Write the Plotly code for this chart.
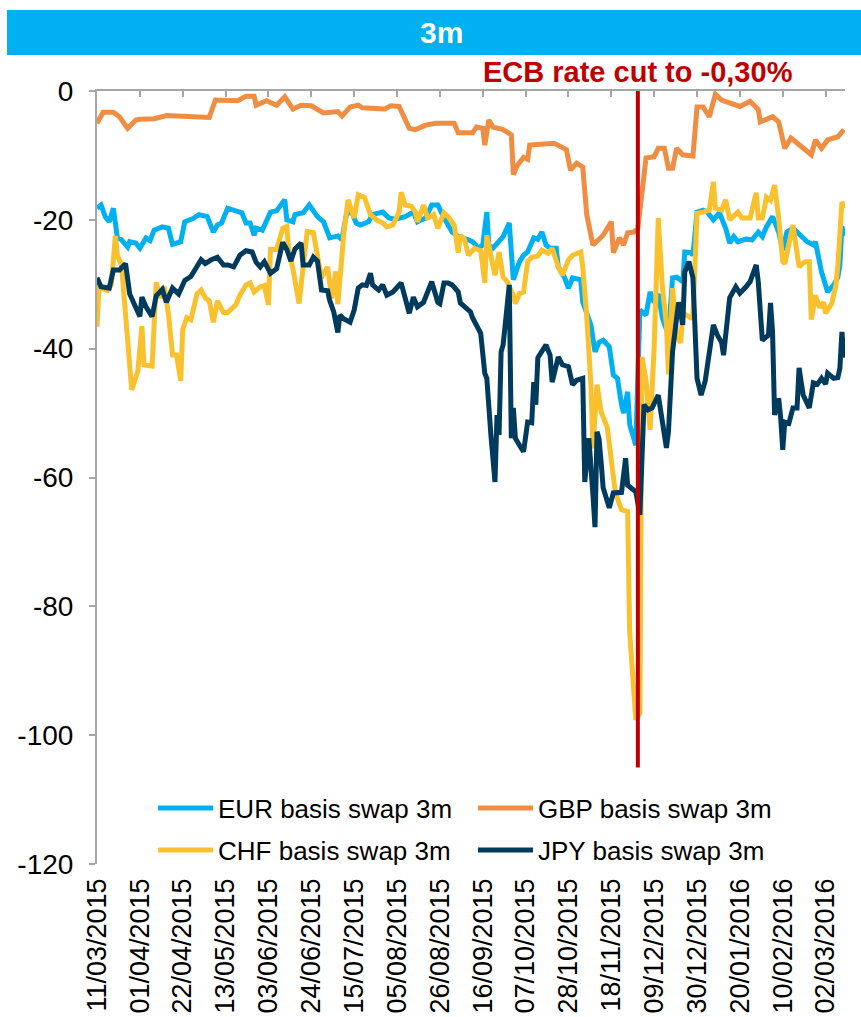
import plotly.graph_objects as go

# --- data (bp) ---
tick_dates = ["2015-03-11", "2015-04-01", "2015-04-22", "2015-05-13", "2015-06-03", "2015-06-24",
              "2015-07-15", "2015-08-05", "2015-08-26", "2015-09-16", "2015-10-07", "2015-10-28",
              "2015-11-18", "2015-12-09", "2015-12-30", "2016-01-20", "2016-02-10", "2016-03-02"]
tick_labels = ["11/03/2015", "01/04/2015", "22/04/2015", "13/05/2015", "03/06/2015", "24/06/2015",
               "15/07/2015", "05/08/2015", "26/08/2015", "16/09/2015", "07/10/2015", "28/10/2015",
               "18/11/2015", "09/12/2015", "30/12/2015", "20/01/2016", "10/02/2016", "02/03/2016"]
y_ticks = [0, -20, -40, -60, -80, -100, -120]
y_labels = ["0", "-20", "-40", "-60", "-80", "-100", "-120"]

ecb_cut_date = "2015-12-01"

eur = [("2015-03-11", -18.2), ("2015-03-13", -17.7), ("2015-03-15", -19.5), ("2015-03-17", -20.3),
       ("2015-03-19", -18.2), ("2015-03-21", -22.8), ("2015-03-23", -23.1), ("2015-03-26", -24.2),
       ("2015-03-27", -23.4), ("2015-03-30", -23.6), ("2015-04-01", -24.4), ("2015-04-04", -22.8),
       ("2015-04-06", -23.2), ("2015-04-08", -21.6), ("2015-04-12", -21.1), ("2015-04-15", -21.3),
       ("2015-04-17", -23.8), ("2015-04-21", -23.4), ("2015-04-23", -20.3), ("2015-04-27", -19.8),
       ("2015-04-30", -19.2), ("2015-05-04", -19.5), ("2015-05-07", -21.9), ("2015-05-09", -20.8),
       ("2015-05-11", -20.5), ("2015-05-14", -18.2), ("2015-05-18", -18.6), ("2015-05-21", -18.9),
       ("2015-05-23", -20.5), ("2015-05-25", -20.5), ("2015-05-27", -22.4), ("2015-05-28", -21.3),
       ("2015-05-31", -21.6), ("2015-06-04", -18.8), ("2015-06-07", -18.6), ("2015-06-11", -16.9),
       ("2015-06-12", -20.0), ("2015-06-15", -20.3), ("2015-06-16", -19.2), ("2015-06-20", -18.9),
       ("2015-06-23", -17.7), ("2015-06-27", -19.5), ("2015-06-30", -20.3), ("2015-07-03", -22.8),
       ("2015-07-07", -22.5), ("2015-07-09", -23.1), ("2015-07-11", -19.5), ("2015-07-13", -18.2),
       ("2015-07-16", -20.5), ("2015-07-18", -20.8), ("2015-07-22", -20.3), ("2015-07-24", -19.2),
       ("2015-07-29", -18.8), ("2015-08-01", -19.7), ("2015-08-04", -19.9), ("2015-08-09", -19.5),
       ("2015-08-13", -18.8), ("2015-08-15", -20.3), ("2015-08-19", -19.7), ("2015-08-22", -17.7),
       ("2015-08-25", -17.7), ("2015-08-28", -19.7), ("2015-09-01", -21.9), ("2015-09-04", -22.6),
       ("2015-09-09", -23.1), ("2015-09-11", -23.4), ("2015-09-14", -24.4), ("2015-09-16", -23.9),
       ("2015-09-18", -18.8), ("2015-09-19", -23.9), ("2015-09-21", -24.4), ("2015-09-26", -22.6),
       ("2015-09-29", -20.5), ("2015-09-30", -23.9), ("2015-10-01", -29.3), ("2015-10-04", -26.5),
       ("2015-10-06", -25.5), ("2015-10-08", -25.0), ("2015-10-11", -22.8), ("2015-10-13", -23.0),
       ("2015-10-15", -21.9), ("2015-10-17", -23.9), ("2015-10-19", -24.4), ("2015-10-22", -24.4),
       ("2015-10-23", -27.3), ("2015-10-26", -28.9), ("2015-10-28", -30.6), ("2015-10-30", -29.0),
       ("2015-11-03", -29.3), ("2015-11-04", -32.8), ("2015-11-08", -36.3), ("2015-11-10", -40.5),
       ("2015-11-12", -39.0), ("2015-11-14", -38.7), ("2015-11-17", -39.7), ("2015-11-19", -44.1),
       ("2015-11-21", -44.6), ("2015-11-23", -48.7), ("2015-11-24", -50.0), ("2015-11-26", -46.7),
       ("2015-11-27", -51.8), ("2015-11-30", -55.0), ("2015-12-02", -34.0), ("2015-12-05", -34.8),
       ("2015-12-07", -31.2), ("2015-12-09", -32.8), ("2015-12-11", -31.5), ("2015-12-13", -35.2),
       ("2015-12-16", -37.9), ("2015-12-18", -29.0), ("2015-12-20", -28.9), ("2015-12-23", -29.6),
       ("2015-12-24", -25.0), ("2015-12-27", -25.1), ("2015-12-28", -25.5), ("2015-12-30", -18.8),
       ("2016-01-02", -18.5), ("2016-01-04", -18.8), ("2016-01-07", -20.0), ("2016-01-10", -18.9),
       ("2016-01-13", -21.3), ("2016-01-15", -23.6), ("2016-01-17", -22.6), ("2016-01-19", -23.4),
       ("2016-01-23", -23.0), ("2016-01-26", -23.1), ("2016-01-29", -21.9), ("2016-01-31", -22.6),
       ("2016-02-02", -21.1), ("2016-02-05", -19.5), ("2016-02-08", -21.9), ("2016-02-10", -24.7),
       ("2016-02-12", -21.9), ("2016-02-15", -21.3), ("2016-02-19", -22.6), ("2016-02-22", -23.4),
       ("2016-02-25", -23.9), ("2016-02-26", -23.4), ("2016-02-29", -28.1), ("2016-03-03", -31.2),
       ("2016-03-06", -30.1), ("2016-03-08", -28.9), ("2016-03-09", -27.0), ("2016-03-10", -21.0),
       ("2016-03-11", -22.5)]

gbp = [("2015-03-11", -5.0), ("2015-03-14", -3.3), ("2015-03-19", -3.3), ("2015-03-22", -4.0),
       ("2015-03-26", -5.8), ("2015-03-30", -4.5), ("2015-04-01", -4.4), ("2015-04-08", -4.3),
       ("2015-04-14", -3.8), ("2015-04-25", -4.0), ("2015-05-05", -4.1), ("2015-05-08", -1.4),
       ("2015-05-19", -1.5), ("2015-05-23", -0.8), ("2015-05-27", -0.8), ("2015-05-28", -2.2),
       ("2015-06-02", -1.5), ("2015-06-07", -2.2), ("2015-06-11", -0.9), ("2015-06-15", -2.8),
       ("2015-06-19", -2.2), ("2015-06-24", -2.3), ("2015-06-30", -3.4), ("2015-07-07", -3.2),
       ("2015-07-09", -3.9), ("2015-07-13", -2.5), ("2015-07-17", -2.2), ("2015-07-19", -2.6),
       ("2015-07-30", -2.8), ("2015-08-02", -2.3), ("2015-08-06", -2.4), ("2015-08-11", -5.8),
       ("2015-08-14", -6.0), ("2015-08-19", -5.3), ("2015-08-24", -5.0), ("2015-09-02", -5.0),
       ("2015-09-04", -6.5), ("2015-09-11", -6.5), ("2015-09-13", -5.6), ("2015-09-16", -5.8),
       ("2015-09-17", -8.4), ("2015-09-19", -4.5), ("2015-09-21", -5.6), ("2015-09-26", -6.0),
       ("2015-09-30", -6.8), ("2015-10-01", -13.0), ("2015-10-03", -11.5), ("2015-10-06", -10.3),
       ("2015-10-08", -10.6), ("2015-10-09", -8.4), ("2015-10-21", -8.1), ("2015-10-27", -9.1),
       ("2015-10-29", -12.3), ("2015-11-01", -11.2), ("2015-11-04", -11.8), ("2015-11-06", -19.3),
       ("2015-11-09", -23.9), ("2015-11-13", -22.7), ("2015-11-14", -22.4), ("2015-11-18", -20.3),
       ("2015-11-19", -25.1), ("2015-11-22", -22.8), ("2015-11-24", -23.9), ("2015-11-26", -22.0),
       ("2015-11-29", -21.9), ("2015-12-01", -21.3), ("2015-12-05", -10.4), ("2015-12-09", -10.2),
       ("2015-12-11", -8.9), ("2015-12-14", -8.9), ("2015-12-16", -12.0), ("2015-12-18", -12.0),
       ("2015-12-20", -8.9), ("2015-12-23", -9.9), ("2015-12-28", -10.1), ("2015-12-30", -2.5),
       ("2016-01-02", -2.5), ("2016-01-05", -4.0), ("2016-01-08", -0.5), ("2016-01-11", -1.4),
       ("2016-01-15", -1.8), ("2016-01-20", -2.4), ("2016-01-25", -1.6), ("2016-01-29", -2.9),
       ("2016-01-30", -4.8), ("2016-02-05", -4.0), ("2016-02-08", -4.8), ("2016-02-11", -8.9),
       ("2016-02-14", -7.3), ("2016-02-18", -8.4), ("2016-02-24", -9.9), ("2016-02-26", -7.6),
       ("2016-02-29", -8.9), ("2016-03-03", -7.6), ("2016-03-08", -7.1), ("2016-03-11", -6.0)]

chf = [("2015-03-11", -36.6), ("2015-03-12", -30.4), ("2015-03-16", -31.0), ("2015-03-18", -30.1),
       ("2015-03-20", -22.5), ("2015-03-21", -25.5), ("2015-03-23", -27.0), ("2015-03-25", -35.0),
       ("2015-03-27", -44.6), ("2015-03-28", -46.4), ("2015-03-31", -43.5), ("2015-04-02", -36.5),
       ("2015-04-03", -42.5), ("2015-04-07", -42.7), ("2015-04-09", -29.7), ("2015-04-11", -32.1),
       ("2015-04-13", -30.4), ("2015-04-15", -34.6), ("2015-04-17", -41.0), ("2015-04-19", -41.0),
       ("2015-04-21", -45.0), ("2015-04-22", -37.0), ("2015-04-24", -35.2), ("2015-04-26", -35.5),
       ("2015-04-29", -31.5), ("2015-05-01", -30.9), ("2015-05-03", -32.1), ("2015-05-05", -32.6),
       ("2015-05-07", -35.9), ("2015-05-09", -32.6), ("2015-05-12", -34.4), ("2015-05-14", -34.4),
       ("2015-05-18", -33.2), ("2015-05-20", -31.7), ("2015-05-23", -30.1), ("2015-05-25", -29.8),
       ("2015-05-27", -31.2), ("2015-05-30", -30.4), ("2015-06-01", -30.2), ("2015-06-03", -33.2),
       ("2015-06-04", -24.6), ("2015-06-07", -24.6), ("2015-06-10", -21.3), ("2015-06-12", -21.0),
       ("2015-06-13", -25.0), ("2015-06-15", -27.6), ("2015-06-18", -33.0), ("2015-06-20", -26.4),
       ("2015-06-22", -21.8), ("2015-06-25", -22.0), ("2015-06-27", -25.3), ("2015-06-29", -29.0),
       ("2015-07-02", -27.3), ("2015-07-04", -32.2), ("2015-07-06", -28.0), ("2015-07-07", -33.1),
       ("2015-07-10", -21.9), ("2015-07-12", -16.9), ("2015-07-15", -19.7), ("2015-07-17", -16.1),
       ("2015-07-20", -16.5), ("2015-07-23", -19.2), ("2015-07-26", -20.0), ("2015-07-29", -20.5),
       ("2015-07-31", -21.1), ("2015-08-03", -20.8), ("2015-08-06", -18.8), ("2015-08-07", -15.7),
       ("2015-08-09", -17.7), ("2015-08-12", -17.9), ("2015-08-14", -18.8), ("2015-08-15", -20.3),
       ("2015-08-18", -17.7), ("2015-08-20", -19.7), ("2015-08-23", -19.2), ("2015-08-25", -21.3),
       ("2015-08-28", -18.9), ("2015-08-30", -19.5), ("2015-09-02", -20.8), ("2015-09-04", -25.1),
       ("2015-09-05", -22.4), ("2015-09-07", -23.0), ("2015-09-09", -25.5), ("2015-09-12", -24.4),
       ("2015-09-15", -24.8), ("2015-09-17", -29.8), ("2015-09-18", -22.4), ("2015-09-20", -26.0),
       ("2015-09-22", -28.6), ("2015-09-24", -25.0), ("2015-09-26", -28.9), ("2015-09-28", -29.6),
       ("2015-10-01", -31.7), ("2015-10-02", -33.0), ("2015-10-04", -31.4), ("2015-10-06", -31.2),
       ("2015-10-08", -26.5), ("2015-10-10", -25.8), ("2015-10-13", -25.6), ("2015-10-15", -24.7),
       ("2015-10-18", -25.2), ("2015-10-20", -24.4), ("2015-10-23", -27.3), ("2015-10-25", -28.6),
       ("2015-10-28", -26.2), ("2015-10-30", -25.5), ("2015-11-03", -25.0), ("2015-11-04", -27.3),
       ("2015-11-06", -35.2), ("2015-11-08", -45.6), ("2015-11-09", -55.5), ("2015-11-11", -45.6),
       ("2015-11-13", -49.8), ("2015-11-16", -52.2), ("2015-11-19", -59.9), ("2015-11-20", -62.4),
       ("2015-11-23", -65.0), ("2015-11-26", -65.3), ("2015-11-27", -84.0), ("2015-11-30", -97.6),
       ("2015-12-02", -96.6), ("2015-12-03", -41.3), ("2015-12-05", -44.9), ("2015-12-07", -52.6),
       ("2015-12-09", -39.7), ("2015-12-11", -19.7), ("2015-12-13", -30.4), ("2015-12-15", -36.2),
       ("2015-12-16", -44.0), ("2015-12-18", -30.6), ("2015-12-20", -38.0), ("2015-12-22", -39.1),
       ("2015-12-23", -34.5), ("2015-12-27", -35.2), ("2015-12-28", -35.0), ("2015-12-30", -19.0),
       ("2016-01-02", -18.8), ("2016-01-05", -18.5), ("2016-01-07", -14.1), ("2016-01-08", -18.2),
       ("2016-01-11", -18.5), ("2016-01-13", -16.9), ("2016-01-15", -20.0), ("2016-01-19", -18.8),
       ("2016-01-21", -19.7), ("2016-01-25", -19.7), ("2016-01-28", -15.8), ("2016-01-29", -19.7),
       ("2016-01-31", -19.7), ("2016-02-02", -16.5), ("2016-02-04", -17.0), ("2016-02-06", -14.6),
       ("2016-02-08", -19.7), ("2016-02-10", -26.5), ("2016-02-11", -26.8), ("2016-02-13", -23.4),
       ("2016-02-15", -20.8), ("2016-02-18", -27.3), ("2016-02-21", -26.5), ("2016-02-23", -26.5),
       ("2016-02-24", -35.5), ("2016-02-26", -31.7), ("2016-02-28", -33.6), ("2016-03-01", -32.8),
       ("2016-03-02", -34.5), ("2016-03-05", -33.0), ("2016-03-07", -30.2), ("2016-03-08", -27.0),
       ("2016-03-10", -17.2), ("2016-03-11", -18.2)]

jpy = [("2015-03-11", -29.0), ("2015-03-13", -30.4), ("2015-03-17", -30.6), ("2015-03-19", -27.8),
       ("2015-03-22", -27.8), ("2015-03-25", -26.8), ("2015-03-27", -31.5), ("2015-03-29", -33.0),
       ("2015-04-01", -35.0), ("2015-04-02", -32.0), ("2015-04-04", -33.5), ("2015-04-07", -35.0),
       ("2015-04-09", -31.8), ("2015-04-12", -30.8), ("2015-04-14", -32.8), ("2015-04-17", -30.6),
       ("2015-04-20", -31.5), ("2015-04-23", -29.4), ("2015-04-26", -28.8), ("2015-05-01", -26.2),
       ("2015-05-03", -26.8), ("2015-05-06", -26.2), ("2015-05-09", -25.8), ("2015-05-12", -27.0),
       ("2015-05-14", -27.0), ("2015-05-17", -27.3), ("2015-05-20", -25.5), ("2015-05-23", -24.8),
       ("2015-05-26", -25.0), ("2015-05-28", -26.6), ("2015-05-30", -27.3), ("2015-06-01", -26.5),
       ("2015-06-04", -28.3), ("2015-06-07", -27.6), ("2015-06-10", -23.5), ("2015-06-12", -24.6),
       ("2015-06-14", -26.4), ("2015-06-16", -24.5), ("2015-06-19", -23.6), ("2015-06-20", -27.0),
       ("2015-06-23", -27.0), ("2015-06-25", -25.8), ("2015-06-27", -26.4), ("2015-06-29", -30.9),
       ("2015-07-02", -31.0), ("2015-07-03", -32.5), ("2015-07-05", -34.3), ("2015-07-07", -37.5),
       ("2015-07-08", -34.8), ("2015-07-10", -35.4), ("2015-07-13", -35.9), ("2015-07-15", -34.0),
       ("2015-07-17", -30.6), ("2015-07-19", -30.1), ("2015-07-21", -30.2), ("2015-07-23", -28.3),
       ("2015-07-24", -30.1), ("2015-07-27", -30.9), ("2015-07-29", -30.1), ("2015-07-31", -31.7),
       ("2015-08-03", -31.2), ("2015-08-07", -29.8), ("2015-08-09", -32.1), ("2015-08-11", -34.5),
       ("2015-08-13", -32.0), ("2015-08-15", -33.5), ("2015-08-18", -32.8), ("2015-08-20", -30.9),
       ("2015-08-22", -29.6), ("2015-08-25", -32.8), ("2015-08-26", -33.0), ("2015-08-28", -29.8),
       ("2015-08-30", -29.8), ("2015-09-01", -30.1), ("2015-09-04", -31.2), ("2015-09-05", -32.9),
       ("2015-09-07", -33.5), ("2015-09-10", -34.3), ("2015-09-11", -35.2), ("2015-09-13", -36.3),
       ("2015-09-15", -37.6), ("2015-09-17", -43.8), ("2015-09-18", -44.6), ("2015-09-20", -53.4),
       ("2015-09-22", -60.7), ("2015-09-23", -50.3), ("2015-09-24", -53.4), ("2015-09-25", -40.5),
       ("2015-09-26", -39.4), ("2015-09-29", -30.1), ("2015-09-30", -53.9), ("2015-10-01", -49.2),
       ("2015-10-02", -53.9), ("2015-10-04", -55.0), ("2015-10-06", -56.0), ("2015-10-08", -51.4),
       ("2015-10-10", -51.5), ("2015-10-11", -45.2), ("2015-10-12", -48.7), ("2015-10-13", -41.4),
       ("2015-10-15", -40.5), ("2015-10-17", -39.4), ("2015-10-19", -41.0), ("2015-10-20", -45.2),
       ("2015-10-23", -41.3), ("2015-10-25", -42.5), ("2015-10-28", -42.8), ("2015-10-30", -45.6),
       ("2015-11-01", -44.9), ("2015-11-04", -44.6), ("2015-11-05", -60.7), ("2015-11-07", -53.9),
       ("2015-11-09", -62.7), ("2015-11-10", -67.7), ("2015-11-11", -52.9), ("2015-11-12", -54.0),
       ("2015-11-13", -57.6), ("2015-11-14", -61.6), ("2015-11-17", -64.7), ("2015-11-19", -62.4),
       ("2015-11-23", -62.3), ("2015-11-25", -57.0), ("2015-11-26", -61.2), ("2015-11-28", -61.6),
       ("2015-11-30", -62.2), ("2015-12-02", -65.8), ("2015-12-04", -48.7), ("2015-12-06", -49.5),
       ("2015-12-08", -49.2), ("2015-12-11", -47.2), ("2015-12-13", -51.8), ("2015-12-15", -55.4),
       ("2015-12-16", -52.9), ("2015-12-18", -40.5), ("2015-12-20", -35.2), ("2015-12-21", -32.8),
       ("2015-12-23", -36.3), ("2015-12-24", -28.1), ("2015-12-26", -26.5), ("2015-12-28", -29.0),
       ("2015-12-30", -44.6), ("2016-01-01", -47.2), ("2016-01-03", -45.0), ("2016-01-04", -43.0),
       ("2016-01-07", -36.3), ("2016-01-09", -37.9), ("2016-01-11", -39.0), ("2016-01-12", -41.0),
       ("2016-01-14", -34.8), ("2016-01-15", -32.1), ("2016-01-18", -30.4), ("2016-01-20", -31.4),
       ("2016-01-23", -30.4), ("2016-01-25", -29.6), ("2016-01-28", -27.0), ("2016-01-29", -29.6),
       ("2016-01-31", -38.7), ("2016-02-03", -37.9), ("2016-02-04", -32.9), ("2016-02-05", -37.4),
       ("2016-02-06", -50.3), ("2016-02-08", -47.7), ("2016-02-09", -50.8), ("2016-02-10", -55.7),
       ("2016-02-11", -51.4), ("2016-02-13", -51.6), ("2016-02-15", -49.2), ("2016-02-17", -49.2),
       ("2016-02-18", -43.0), ("2016-02-20", -47.2), ("2016-02-23", -49.2), ("2016-02-25", -45.3),
       ("2016-02-27", -45.5), ("2016-02-29", -44.6), ("2016-03-02", -45.5), ("2016-03-03", -43.8),
       ("2016-03-06", -44.6), ("2016-03-08", -44.5), ("2016-03-09", -43.0), ("2016-03-10", -37.4),
       ("2016-03-11", -41.4)]

# one legend per entry so the 2x2 grid sits where it does in the reference
series = [
    ("EUR basis swap 3m", eur, "#00B0F0", "legend"),
    ("GBP basis swap 3m", gbp, "#EF8D43", "legend2"),
    ("CHF basis swap 3m", chf, "#F9C12E", "legend3"),
    ("JPY basis swap 3m", jpy, "#003A5C", "legend4"),
]

FONT = "Liberation Sans, Arial, sans-serif"
GREY = "#A6A6A6"

fig = go.Figure()
for name, points, color, legend_id in series:
    fig.add_trace(
        go.Scatter(
            x=[d for d, _ in points],
            y=[v for _, v in points],
            mode="lines",
            name=name,
            legend=legend_id,
            showlegend=True,
            line=dict(color=color, width=5),
        )
    )

# empty trace so the top axis (line at 0 with the tick marks) gets drawn
fig.add_trace(go.Scatter(x=[], y=[], xaxis="x2", showlegend=False, hoverinfo="skip"))

# ECB cut marker
fig.add_shape(type="line", xref="x", yref="y", x0=ecb_cut_date, x1=ecb_cut_date, y0=0, y1=-105,
              line=dict(color="#C00000", width=4))
fig.add_annotation(text="<b>ECB rate cut to -0,30%</b>", xref="paper", yref="paper",
                   x=0.723, y=1.0246, xanchor="center", yanchor="middle", showarrow=False,
                   font=dict(family=FONT, size=29, color="#C00000"))

# title banner
fig.add_shape(type="rect", xref="paper", yref="paper", x0=-0.1203, x1=1.0214, y0=1.0466, y1=1.1048,
              fillcolor="#00B0F0", line=dict(width=0), layer="below")
fig.add_annotation(text="<b>3m</b>", xref="paper", yref="paper", x=0.461, y=1.0757,
                   xanchor="center", yanchor="middle", showarrow=False,
                   font=dict(family=FONT, size=30, color="white"))


def legend_box(x, y):
    return dict(orientation="h", x=x, y=y, xanchor="left", yanchor="middle", itemwidth=55,
                bgcolor="rgba(0,0,0,0)", font=dict(size=26), visible=True)


x_range = ["2015-03-11", "2016-03-11 12:00"]
fig.update_layout(
    width=861,
    height=1017,
    margin=dict(l=97, r=16, t=91, b=153),
    paper_bgcolor="white",
    plot_bgcolor="white",
    showlegend=True,
    font=dict(family=FONT, color="black"),
    xaxis=dict(
        type="date", range=x_range, tickvals=tick_dates, ticktext=tick_labels,
        tickangle=-90, ticks="", showline=False, showgrid=False, zeroline=False,
        tickfont=dict(size=27), ticklabelstandoff=8, automargin=False,
    ),
    xaxis2=dict(
        type="date", range=x_range, overlaying="x", side="top", anchor="y",
        tickvals=tick_dates, showticklabels=False, ticks="inside", ticklen=6,
        tickcolor=GREY, tickwidth=1.5, showline=True, linecolor=GREY, linewidth=2,
        showgrid=False, zeroline=False, automargin=False,
    ),
    yaxis=dict(
        range=[-120, 0], tickvals=y_ticks, ticktext=y_labels, ticks="outside", ticklen=6,
        tickcolor=GREY, tickwidth=1.5, showline=True, linecolor=GREY, linewidth=2,
        showgrid=False, zeroline=False, tickfont=dict(size=28), ticklabelstandoff=10,
        automargin=False,
    ),
    legend=legend_box(0.0749, 0.0724),
    legend2=legend_box(0.5027, 0.0724),
    legend3=legend_box(0.0749, 0.0181),
    legend4=legend_box(0.5027, 0.0181),
)

fig.write_html("out.html", config={"displayModeBar": False},
               post_script="document.body.style.margin='0';")
